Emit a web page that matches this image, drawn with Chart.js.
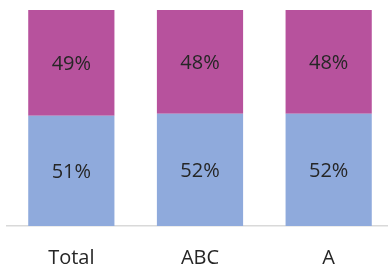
<!DOCTYPE html>
<html>
<head>
<meta charset="utf-8">
<script src="https://cdn.jsdelivr.net/npm/chart.js@4"></script>
<style>
  html, body { margin: 0; padding: 0; background: #fff; overflow: hidden; }
  #wrap { width: 393px; height: 273px; }
</style>
</head>
<body>
<div id="wrap"><canvas id="myChart" width="393" height="273"></canvas></div>
<script>
'use strict'

// categories and the two stacked shares (percent)
const categories = ['Total', 'ABC', 'A'];
const lowerShare = [51, 52, 52];
const upperShare = [49, 48, 48];

const labelFont = '"Open Sans", sans-serif';

// draws the % value in the middle of each bar segment
const segmentLabels = {
  id: 'segmentLabels',
  afterDatasetsDraw(chart) {
    const ctx = chart.ctx;
    ctx.save();
    ctx.font = '20px ' + labelFont;
    ctx.fillStyle = '#262626';
    ctx.textAlign = 'center';
    ctx.textBaseline = 'middle';
    chart.data.datasets.forEach(function(ds, i) {
      chart.getDatasetMeta(i).data.forEach(function(bar, j) {
        const mid = (bar.y + bar.base) / 2;
        ctx.fillText(ds.data[j] + '%', bar.x, mid + 1);
      });
    });
    ctx.restore();
  }
};

const ctx = document.getElementById('myChart').getContext('2d');

const myChart = new Chart(ctx, {
  type: 'bar',
  data: {
    labels: categories,
    datasets: [
      {
        label: 'lower',
        data: lowerShare,
        backgroundColor: '#8FAADC',
        borderWidth: 0
      },
      {
        label: 'upper',
        data: upperShare,
        backgroundColor: '#B7529D',
        borderWidth: 0
      }
    ]
  },
  options: {
    responsive: false,
    animation: false,
    datasets: {
      bar: { categoryPercentage: 1, barPercentage: 0.67 }
    },
    layout: { padding: { top: 10, left: 7, right: 0, bottom: 0 } },
    plugins: {
      legend: { display: false },
      tooltip: { enabled: false }
    },
    scales: {
      x: {
        stacked: true,
        grid: { display: false },
        border: { display: true, color: '#D9D9D9', width: 1.5 },
        ticks: {
          color: '#262626',
          font: { family: labelFont, size: 20 },
          padding: 12
        },
        afterFit(scale) { scale.height = 47; }
      },
      y: {
        stacked: true,
        display: false,
        min: 0,
        max: 100
      }
    }
  },
  plugins: [segmentLabels]
});
</script>
</body>
</html>
